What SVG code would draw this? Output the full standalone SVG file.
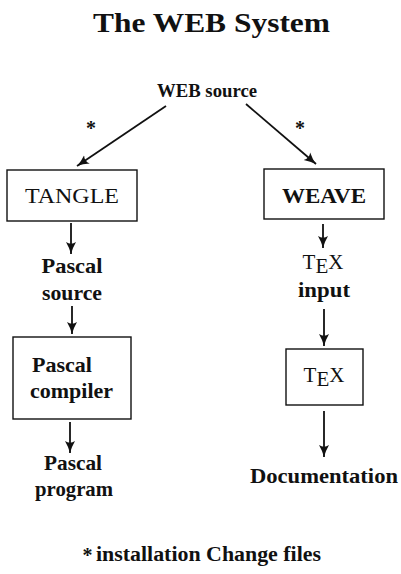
<svg xmlns="http://www.w3.org/2000/svg" width="401" height="574" viewBox="0 0 401 574">
<style>
text{font-family:"Liberation Serif","DejaVu Serif",serif;fill:#111}
.b{font-weight:bold}
.lbl{font-size:21px}
.box{fill:#fff;stroke:#111;stroke-width:1.4}
.con line{stroke:#111;stroke-width:1.8;marker-end:url(#ah)}
</style>
<defs>
<marker id="ah" markerUnits="userSpaceOnUse" markerWidth="14" markerHeight="12" refX="12" refY="6" orient="auto">
<path d="M0,1 Q6,4.5 12,6 Q6,7.5 0,11 Q3.5,6 0,1 z" fill="#111"/>
</marker>
</defs>
<rect width="401" height="574" fill="#fff"/>
<text id="title" class="b" x="211.5" y="32" font-size="27" text-anchor="middle" textLength="237" lengthAdjust="spacingAndGlyphs">The WEB System</text>

<g id="web-source"><text class="b" x="207" y="97" font-size="19" text-anchor="middle" textLength="100" lengthAdjust="spacingAndGlyphs">WEB source</text></g>
<g id="star-left"><text class="b" x="91" y="135" font-size="20" text-anchor="middle">*</text></g>
<g id="star-right"><text class="b" x="300" y="135" font-size="20" text-anchor="middle">*</text></g>

<g id="tangle"><rect class="box" x="7" y="170" width="130" height="51"/><text x="72" y="203" font-size="22" text-anchor="middle" textLength="94" lengthAdjust="spacingAndGlyphs">TANGLE</text></g>
<g id="weave"><rect class="box" x="264" y="169" width="120" height="50"/><text class="b" x="324" y="203" font-size="21" text-anchor="middle" textLength="84" lengthAdjust="spacingAndGlyphs">WEAVE</text></g>

<g id="pascal-source"><text class="b lbl" x="72" y="273" text-anchor="middle" textLength="61" lengthAdjust="spacingAndGlyphs">Pascal</text><text class="b lbl" x="72" y="300" text-anchor="middle" textLength="60" lengthAdjust="spacingAndGlyphs">source</text></g>
<g id="tex-input"><text x="323" y="269" font-size="21" text-anchor="middle"><tspan>T</tspan><tspan dy="4">E</tspan><tspan dy="-4">X</tspan></text><text class="b lbl" x="324" y="297" text-anchor="middle" textLength="52" lengthAdjust="spacingAndGlyphs">input</text></g>

<g id="pascal-compiler"><rect class="box" x="13" y="337" width="118" height="82"/><text class="b lbl" x="32" y="372" textLength="60" lengthAdjust="spacingAndGlyphs">Pascal</text><text class="b lbl" x="30" y="398" textLength="83" lengthAdjust="spacingAndGlyphs">compiler</text></g>
<g id="tex"><rect class="box" x="286" y="349" width="77" height="56"/><text x="324" y="382" font-size="21" text-anchor="middle"><tspan>T</tspan><tspan dy="4">E</tspan><tspan dy="-4">X</tspan></text></g>

<g id="pascal-program"><text class="b lbl" x="73" y="470" text-anchor="middle" textLength="58" lengthAdjust="spacingAndGlyphs">Pascal</text><text class="b lbl" x="74" y="496" text-anchor="middle" textLength="78" lengthAdjust="spacingAndGlyphs">program</text></g>
<g id="documentation"><text class="b lbl" x="324" y="483" text-anchor="middle" textLength="148" lengthAdjust="spacingAndGlyphs">Documentation</text></g>

<g id="footnote"><text class="b" x="87.5" y="562" font-size="20" text-anchor="middle">*</text><text class="b" x="96" y="561" font-size="20" textLength="225" lengthAdjust="spacingAndGlyphs">installation Change files</text></g>

<g class="con" id="connectors">
<line x1="166" y1="106" x2="77" y2="166"/>
<line x1="246" y1="104" x2="316" y2="164"/>
<line x1="71" y1="223" x2="71" y2="254"/>
<line x1="323" y1="224" x2="323" y2="248"/>
<line x1="72" y1="306" x2="72" y2="334"/>
<line x1="324" y1="309" x2="324" y2="346"/>
<line x1="70" y1="422" x2="70" y2="453"/>
<line x1="324" y1="411" x2="324" y2="457"/>
</g>
</svg>
